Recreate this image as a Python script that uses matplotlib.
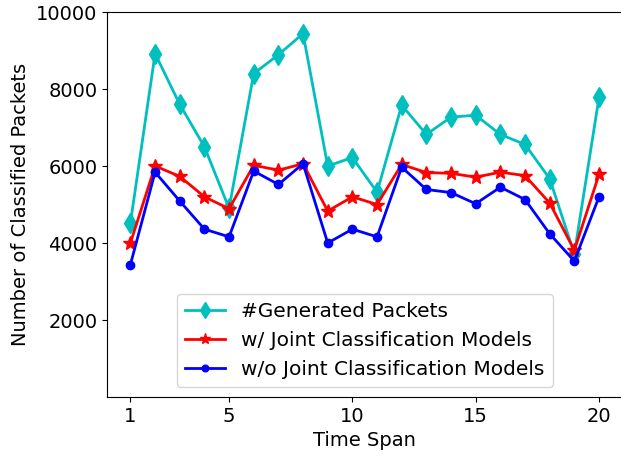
import matplotlib
matplotlib.use('Agg')
import matplotlib.pyplot as plt
import numpy as np

spans = np.arange(1, 21)
generated = [4520, 8920, 7600, 6500, 4900, 8400, 8890, 9440, 6000, 6220,
             5320, 7580, 6820, 7270, 7320, 6820, 6560, 5670, 3720, 7780]
joint = [4000, 6000, 5730, 5200, 4890, 6020, 5890, 6060, 4830, 5200,
         5000, 6040, 5830, 5810, 5710, 5840, 5750, 5040, 3810, 5780]
no_joint = [3440, 5840, 5090, 4360, 4160, 5870, 5520, 6060, 4000, 4360,
            4160, 5970, 5390, 5310, 5020, 5450, 5130, 4240, 3530, 5200]

fig = plt.figure(figsize=(6.21, 4.57), dpi=100)
ax = fig.add_axes([0.1723, 0.1313, 0.830, 0.8424])

ax.plot(spans, generated, 'c-d', lw=2, ms=10, label='#Generated Packets')
ax.plot(spans, joint, 'r-*', lw=2, ms=10, label='w/ Joint Classification Models')
ax.plot(spans, no_joint, 'b-o', lw=2, ms=6, label='w/o Joint Classification Models')

ax.set_xlim(0.05, 20.95)
ax.set_ylim(0, 10000)
ax.set_xticks([1, 5, 10, 15, 20])
ax.set_yticks([2000, 4000, 6000, 8000, 10000])
ax.tick_params(labelsize=14)
ax.set_xlabel('Time Span', fontsize=14)
ax.set_ylabel('Number of Classified Packets', fontsize=14)
ax.legend(loc='lower center', fontsize=14.5, markerscale=0.8)

fig.savefig('out.png', dpi=100)
